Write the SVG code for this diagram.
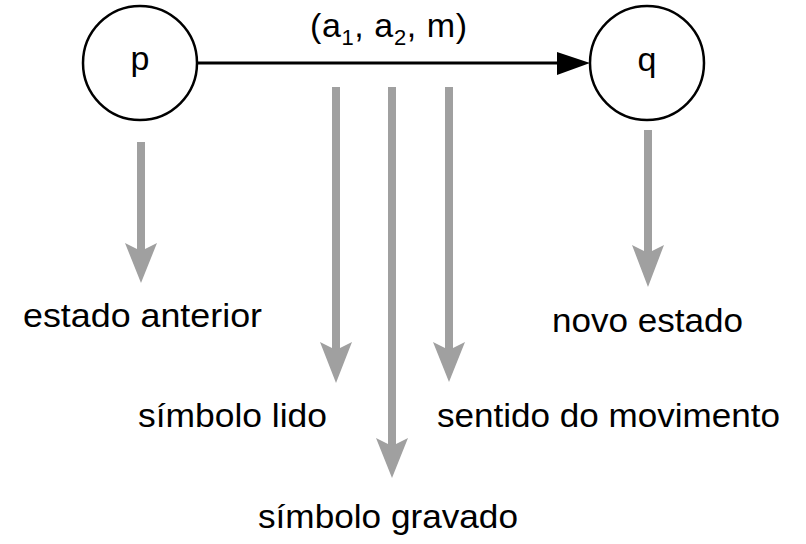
<svg xmlns="http://www.w3.org/2000/svg" width="806" height="544" viewBox="0 0 806 544">
<style>
.node{fill:#fff;stroke:#000;stroke-width:2.5}
.t{font-family:"Liberation Sans",Arial,sans-serif;font-size:34px;fill:#000}
.edge{stroke:#000;stroke-width:3;fill:none}
.g{fill:#a0a0a0;stroke:none}
</style>
<rect width="806" height="544" fill="#fff"/>
<g id="connectors">
<line class="edge" x1="198" y1="63" x2="560" y2="63"/>
<polygon points="557,52 590,63 557,75" fill="#000"/>
<text class="t" x="310" y="37" font-size="32" letter-spacing="0.6">(a<tspan font-size="22" dy="8">1</tspan><tspan dy="-8">, a</tspan><tspan font-size="22" dy="8">2</tspan><tspan dy="-8">, m)</tspan></text>
<path class="g" d="M137,142 V249 L125,243 L141,283 L157,243 L145,249 V142 Z"/>
<path class="g" d="M332,87 V348 L320,342 L336,383 L352,342 L340,348 V87 Z"/>
<path class="g" d="M388,87 V444 L376,438 L392,478 L408,438 L396,444 V87 Z"/>
<path class="g" d="M445,87 V348 L433,342 L449,382 L465,342 L453,348 V87 Z"/>
<path class="g" d="M644,130 V251 L632,245 L648,287 L664,245 L652,251 V130 Z"/>
</g>
<g id="node-p">
<circle class="node" cx="140" cy="63" r="57"/>
<text class="t" x="140" y="70" text-anchor="middle">p</text>
</g>
<g id="node-q">
<circle class="node" cx="647" cy="63" r="57"/>
<text class="t" x="647" y="71" text-anchor="middle">q</text>
</g>
<g id="labels">
<text class="t" x="23" y="327" textLength="239" lengthAdjust="spacingAndGlyphs">estado anterior</text>
<text class="t" x="552" y="332" textLength="191" lengthAdjust="spacingAndGlyphs">novo estado</text>
<text class="t" x="138" y="427" textLength="189" lengthAdjust="spacingAndGlyphs">símbolo lido</text>
<text class="t" x="437" y="427" textLength="343" lengthAdjust="spacingAndGlyphs">sentido do movimento</text>
<text class="t" x="258" y="528" textLength="260" lengthAdjust="spacingAndGlyphs">símbolo gravado</text>
</g>
</svg>
